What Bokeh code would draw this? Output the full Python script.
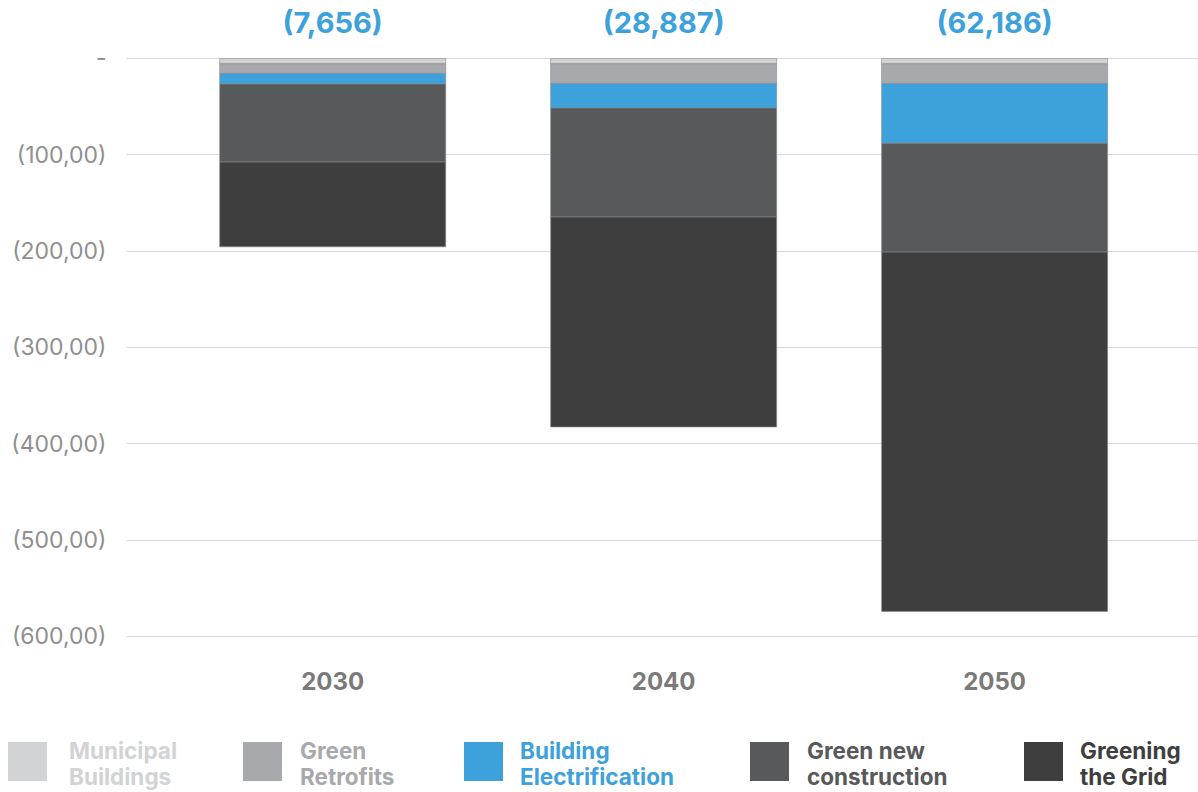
from bokeh.plotting import figure
from bokeh.models import Range1d, FixedTicker, ColumnDataSource, Div
from bokeh.layouts import column
from bokeh.core.properties import value
from bokeh.embed import file_html
from bokeh.resources import INLINE

years = ["2030", "2040", "2050"]
series = ["Municipal Buildings", "Green Retrofits", "Building Electrification",
          "Green new construction", "Greening the Grid"]
municipal = [-5.5, -5.5, -5.5]
retrofits = [-10, -20.5, -20.5]
electrification = [-11, -25.5, -62]
new_construction = [-81, -113, -113]
grid = [-88, -218, -373]
totals = ["(7,656)", "(28,887)", "(62,186)"]
y_ticks = [0, -100, -200, -300, -400, -500, -600]
y_tick_labels = ["-", "(100,00)", "(200,00)", "(300,00)", "(400,00)", "(500,00)", "(600,00)"]
legend_labels = ["Municipal\nBuildings", "Green\nRetrofits", "Building\nElectrification",
                 "Green new\nconstruction", "Greening\nthe Grid"]
colors = ["#D1D3D4", "#A7A9AC", "#3DA1DB", "#58595B", "#3E3E3E"]

FONT = "Inter"

xs = list(range(len(years)))
src = ColumnDataSource(dict(x=xs, m=municipal, r=retrofits, e=electrification,
                            n=new_construction, g=grid, t=totals,
                            ty=[37.4] * len(years)))

p = figure(width=1198, height=728, output_backend="svg", toolbar_location=None,
           x_range=Range1d(-0.623, 2.616), y_range=Range1d(-610.4, 60.2),
           min_border_left=126, min_border_right=0, min_border_top=0, min_border_bottom=82)
p.outline_line_color = None
p.background_fill_color = "white"

p.vbar_stack(["m", "r", "e", "n", "g"], x="x", width=0.683, source=src,
             color=colors, line_color="#8a8a8a", line_width=0.6)

p.text(x="x", y="ty", text="t", source=src, text_align="center", text_baseline="middle",
       text_font=value(FONT), text_font_style="bold", text_font_size="29px",
       text_color="#3DA1DB")

p.xgrid.grid_line_color = None
p.ygrid.grid_line_color = "#d9d9d9"
p.ygrid.grid_line_width = 1
p.ygrid.ticker = FixedTicker(ticks=y_ticks)

p.yaxis.ticker = FixedTicker(ticks=y_ticks)
p.yaxis.major_label_overrides = {t: l for t, l in zip(y_ticks, y_tick_labels)}
p.yaxis.axis_line_color = None
p.yaxis.major_tick_line_color = None
p.yaxis.minor_tick_line_color = None
p.yaxis.major_label_standoff = 14
p.yaxis.major_label_text_font = FONT
p.yaxis.major_label_text_font_size = "23px"
p.yaxis.major_label_text_color = "#8f8f8f"

p.xaxis.ticker = FixedTicker(ticks=xs)
p.xaxis.major_label_overrides = {i: y for i, y in zip(xs, years)}
p.xaxis.axis_line_color = None
p.xaxis.major_tick_line_color = None
p.xaxis.minor_tick_line_color = None
p.xaxis.major_label_standoff = 19
p.xaxis.major_label_text_font = FONT
p.xaxis.major_label_text_font_style = "bold"
p.xaxis.major_label_text_font_size = "24px"
p.xaxis.major_label_text_color = "#7a7a7a"

# legend strip (HTML, built from the series lists)
box_left = [8, 243, 464, 750, 1024]
text_left = [69, 300, 520, 807, 1080]
items = []
for bl, tl, c, lab in zip(box_left, text_left, colors, legend_labels):
    l1, l2 = lab.split("\n")
    items.append(
        f'<div style="position:absolute;left:{bl}px;top:14px;width:39px;height:39px;background:{c};"></div>'
        f'<div style="position:absolute;left:{tl}px;top:10px;color:{c};font-family:Inter;'
        f'font-weight:bold;font-size:22.5px;line-height:26px;white-space:nowrap;">{l1}<br>{l2}</div>'
    )
legend_html = '<div style="position:relative;width:1198px;height:64px;">' + "".join(items) + "</div>"
lg = Div(text=legend_html, width=1198, height=64, margin=0)

layout = column(p, lg, spacing=0)
open("out.html", "w").write(file_html(layout, INLINE))
